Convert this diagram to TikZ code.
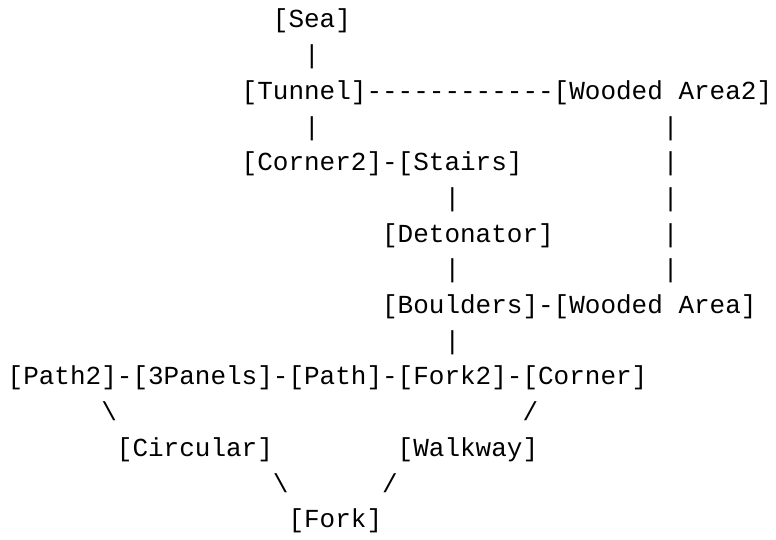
\documentclass[tikz,border=0pt]{standalone}
\usepackage{fontspec}
\setmonofont{Liberation Mono}
\begin{document}
\begin{tikzpicture}[x=1pt,y=1pt,
  t/.style={inner sep=0pt, anchor=base west, font=\ttfamily\fontsize{26}{30}\selectfont},
  cell/.style args={#1/#2}{at={({7.5+15.6*#1},{512-35.7*#2})}}]
\useasboundingbox (0,0) rectangle (776,540);
\def\dsh{-\kern0pt}
% row 0-1
\node[t,cell=17/0] (sea) {[Sea]};
\node[t,cell=19/1] (c1) {|};
% row 2
\node[t,cell=15/2] (tunnel) {[Tunnel]};
\node[t,cell=23/2] (d1) {\dsh\dsh\dsh\dsh\dsh\dsh\dsh\dsh\dsh\dsh\dsh\dsh};
\node[t,cell=35/2] (wa2) {[Wooded Area2]};
% row 3
\node[t,cell=19/3] (c2) {|};
\node[t,cell=42/3] (c3) {|};
% row 4
\node[t,cell=15/4] (corner2) {[Corner2]};
\node[t,cell=24/4] (d2) {-};
\node[t,cell=25/4] (stairs) {[Stairs]};
\node[t,cell=42/4] (c4) {|};
% row 5
\node[t,cell=28/5] (c5) {|};
\node[t,cell=42/5] (c6) {|};
% row 6
\node[t,cell=24/6] (det) {[Detonator]};
\node[t,cell=42/6] (c7) {|};
% row 7
\node[t,cell=28/7] (c8) {|};
\node[t,cell=42/7] (c9) {|};
% row 8
\node[t,cell=24/8] (boulders) {[Boulders]};
\node[t,cell=34/8] (d3) {-};
\node[t,cell=35/8] (wa) {[Wooded Area]};
% row 9
\node[t,cell=28/9] (c10) {|};
% row 10
\node[t,cell=0/10] (path2) {[Path2]};
\node[t,cell=7/10] (d4) {-};
\node[t,cell=8/10] (panels) {[3Panels]};
\node[t,cell=17/10] (d5) {-};
\node[t,cell=18/10] (path) {[Path]};
\node[t,cell=24/10] (d6) {-};
\node[t,cell=25/10] (fork2) {[Fork2]};
\node[t,cell=32/10] (d7) {-};
\node[t,cell=33/10] (corner) {[Corner]};
% row 11
\node[t,cell=6/11] (s1) {\textbackslash};
\node[t,cell=33/11] (s2) {/};
% row 12
\node[t,cell=7/12] (circ) {[Circular]};
\node[t,cell=25/12] (walk) {[Walkway]};
% row 13
\node[t,cell=17/13] (s3) {\textbackslash};
\node[t,cell=24/13] (s4) {/};
% row 14
\node[t,cell=18/14] (fork) {[Fork]};
\end{tikzpicture}
\end{document}
